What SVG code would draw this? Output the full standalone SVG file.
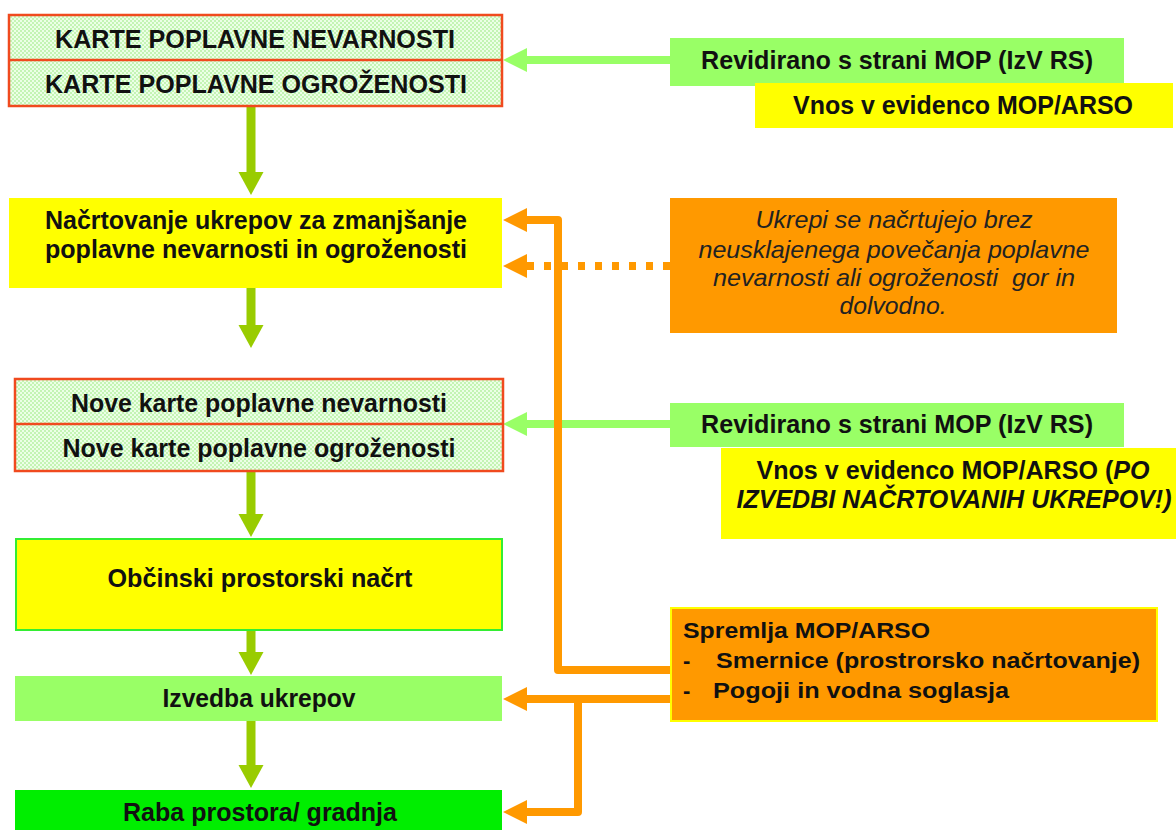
<svg xmlns="http://www.w3.org/2000/svg" width="1176" height="830" viewBox="0 0 1176 830">
<style>
  .t { font-family: "Liberation Sans", Arial, sans-serif; font-weight: bold; fill: #111; }
  .l { font-size: 25px; }
  .c { text-anchor: middle; }
  .it { font-family: "Liberation Sans", Arial, sans-serif; font-style: italic; font-size: 24px; fill: #222; text-anchor: middle; }
  .s { font-size: 22px; }
  .map { fill: url(#dots); stroke: #f04a1e; stroke-width: 2.5; }
  .shaftG { stroke: #99cc00; stroke-width: 9; fill: none; }
  .shaftL { stroke: #99ff66; stroke-width: 8; fill: none; }
  .shaftO { stroke: #ff9900; stroke-width: 8; fill: none; stroke-linejoin: round; }
</style>
<defs>
  <pattern id="dots" width="4" height="4" patternUnits="userSpaceOnUse">
    <rect width="4" height="4" fill="#c4f4b4"/>
    <rect width="2" height="2" fill="#ecffe6"/>
    <rect x="2" y="2" width="2" height="2" fill="#ecffe6"/>
  </pattern>
  <marker id="mG" markerUnits="userSpaceOnUse" viewBox="0 -15 30 30" markerWidth="30" markerHeight="30" refX="0" refY="0" orient="auto">
    <path d="M0,-12.5 L23,0 L0,12.5 z" fill="#99cc00"/>
  </marker>
  <marker id="mL" markerUnits="userSpaceOnUse" viewBox="0 -15 30 30" markerWidth="30" markerHeight="30" refX="0" refY="0" orient="auto">
    <path d="M0,-12 L24,0 L0,12 z" fill="#99ff66"/>
  </marker>
  <marker id="mO" markerUnits="userSpaceOnUse" viewBox="0 -15 30 30" markerWidth="30" markerHeight="30" refX="0" refY="0" orient="auto">
    <path d="M0,-12 L24,0 L0,12 z" fill="#ff9900"/>
  </marker>
</defs>
<rect width="1176" height="830" fill="#ffffff"/>

<g id="connectors">
  <path class="shaftG" d="M251,106 V172" marker-end="url(#mG)"/>
  <path class="shaftG" d="M251,288 V325" marker-end="url(#mG)"/>
  <path class="shaftG" d="M251,471 V514" marker-end="url(#mG)"/>
  <path class="shaftG" d="M251,630 V652" marker-end="url(#mG)"/>
  <path class="shaftG" d="M251,721 V765" marker-end="url(#mG)"/>
  <path class="shaftL" d="M670,60 H527" marker-end="url(#mL)"/>
  <path class="shaftL" d="M670,424 H527" marker-end="url(#mL)"/>
  <path class="shaftO" d="M670,266 H527" stroke-width="9" stroke-dasharray="7 10" marker-end="url(#mO)"/>
  <path class="shaftO" d="M670,670 H558 V220 H527" marker-end="url(#mO)"/>
  <path class="shaftO" d="M670,699 H527" marker-end="url(#mO)"/>
  <path class="shaftO" d="M578,699 V812 H527" marker-end="url(#mO)"/>
</g>

<g id="karte">
  <rect class="map" x="9" y="15" width="493" height="91"/>
  <line x1="9" y1="60" x2="502" y2="60" stroke="#f04a1e" stroke-width="2.5"/>
  <text class="t l c" x="255" y="48" textLength="400" lengthAdjust="spacingAndGlyphs">KARTE POPLAVNE NEVARNOSTI</text>
  <text class="t l c" x="256" y="93" textLength="422" lengthAdjust="spacingAndGlyphs">KARTE POPLAVNE OGROŽENOSTI</text>
</g>

<g id="nacrtovanje">
  <rect x="9" y="198" width="493" height="90" fill="#ffff00"/>
  <text class="t l c" x="256" y="229" textLength="422" lengthAdjust="spacingAndGlyphs">Načrtovanje ukrepov za zmanjšanje</text>
  <text class="t l c" x="256" y="258" textLength="422" lengthAdjust="spacingAndGlyphs">poplavne nevarnosti in ogroženosti</text>
</g>

<g id="nove-karte">
  <rect class="map" x="15" y="379" width="488" height="92"/>
  <line x1="15" y1="424" x2="503" y2="424" stroke="#f04a1e" stroke-width="2.5"/>
  <text class="t l c" x="259" y="412" textLength="376" lengthAdjust="spacingAndGlyphs">Nove karte poplavne nevarnosti</text>
  <text class="t l c" x="259" y="457" textLength="393" lengthAdjust="spacingAndGlyphs">Nove karte poplavne ogroženosti</text>
</g>

<g id="obcinski">
  <rect x="16" y="539" width="486" height="91" fill="#ffff00" stroke="#33ee33" stroke-width="2"/>
  <text class="t l c" x="260" y="587" textLength="305" lengthAdjust="spacingAndGlyphs">Občinski prostorski načrt</text>
</g>

<g id="izvedba">
  <rect x="15" y="676" width="487" height="45" fill="#99ff66"/>
  <text class="t l c" x="259" y="707" textLength="193" lengthAdjust="spacingAndGlyphs">Izvedba ukrepov</text>
</g>

<g id="raba">
  <rect x="15" y="790" width="487" height="42" fill="#00ee00"/>
  <text class="t l c" x="260" y="821" textLength="274" lengthAdjust="spacingAndGlyphs">Raba prostora/ gradnja</text>
</g>

<g id="revidirano-1">
  <rect x="670" y="38" width="454" height="48" fill="#99ff66"/>
  <text class="t l c" x="897" y="69" textLength="392" lengthAdjust="spacingAndGlyphs">Revidirano s strani MOP (IzV RS)</text>
</g>

<g id="vnos-1">
  <rect x="755" y="83" width="418" height="45" fill="#ffff00"/>
  <text class="t l c" x="963" y="114" textLength="340" lengthAdjust="spacingAndGlyphs">Vnos v evidenco MOP/ARSO</text>
</g>

<g id="opomba">
  <rect x="670" y="198" width="447" height="135" fill="#ff9900"/>
  <text class="it" x="894" y="228" textLength="277" lengthAdjust="spacingAndGlyphs">Ukrepi se načrtujejo brez</text>
  <text class="it" x="894" y="258" textLength="391" lengthAdjust="spacingAndGlyphs">neusklajenega povečanja poplavne</text>
  <text class="it" x="894" y="286" textLength="362" lengthAdjust="spacingAndGlyphs" xml:space="preserve">nevarnosti ali ogroženosti  gor in</text>
  <text class="it" x="893" y="314" textLength="107" lengthAdjust="spacingAndGlyphs">dolvodno.</text>
</g>

<g id="revidirano-2">
  <rect x="670" y="403" width="454" height="44" fill="#99ff66"/>
  <text class="t l c" x="897" y="433" textLength="392" lengthAdjust="spacingAndGlyphs">Revidirano s strani MOP (IzV RS)</text>
</g>

<g id="vnos-2">
  <rect x="721" y="448" width="455" height="91" fill="#ffff00"/>
  <text class="t l c" x="953" y="479" textLength="393" lengthAdjust="spacingAndGlyphs">Vnos v evidenco MOP/ARSO (<tspan font-style="italic">PO</tspan></text>
  <text class="t l c" x="954" y="508" font-style="italic" textLength="435" lengthAdjust="spacingAndGlyphs">IZVEDBI NAČRTOVANIH UKREPOV!)</text>
</g>

<g id="spremlja">
  <rect x="671" y="608" width="486" height="113" fill="#ff9900" stroke="#ffff00" stroke-width="2"/>
  <text class="t s" x="683" y="638" textLength="247" lengthAdjust="spacingAndGlyphs">Spremlja MOP/ARSO</text>
  <text class="t s" x="683" y="668">-</text>
  <text class="t s" x="716" y="668" textLength="424" lengthAdjust="spacingAndGlyphs">Smernice (prostrorsko načrtovanje)</text>
  <text class="t s" x="683" y="698">-</text>
  <text class="t s" x="713" y="698" textLength="296" lengthAdjust="spacingAndGlyphs">Pogoji in vodna soglasja</text>
</g>
</svg>
